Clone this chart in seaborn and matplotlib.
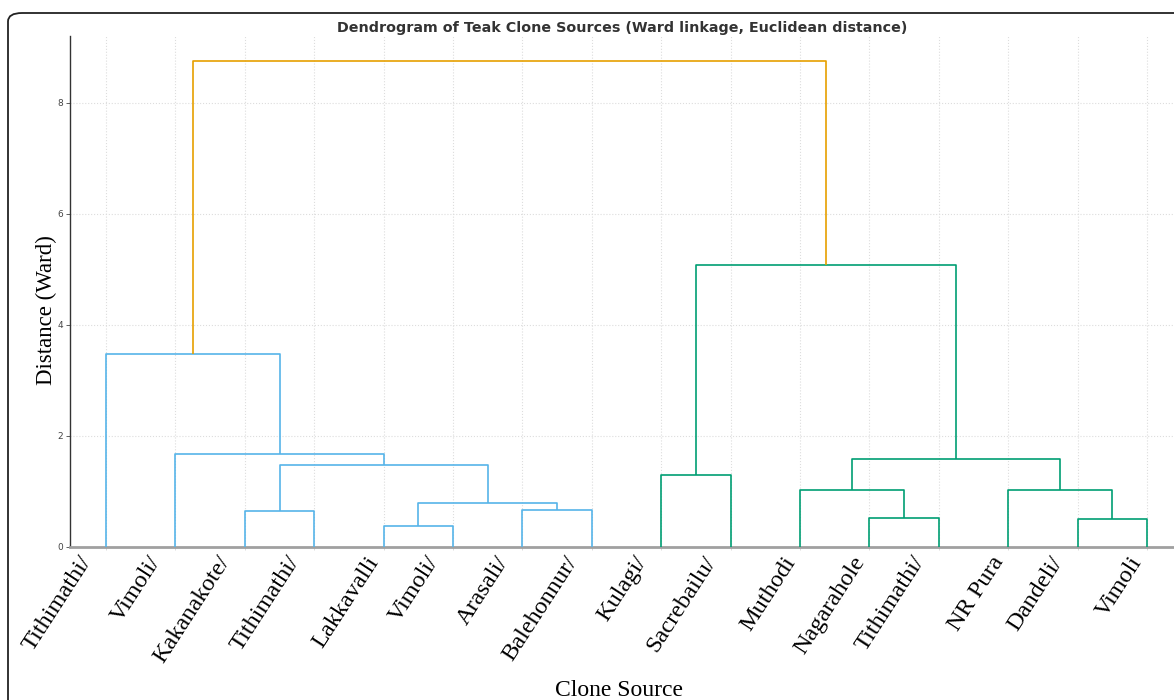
import numpy as np
import matplotlib
matplotlib.use("Agg")
import matplotlib.pyplot as plt
import matplotlib.transforms as mtransforms
from matplotlib.patches import FancyBboxPatch
import seaborn as sns

# leaf order as shown on the x axis
leaf_labels = ["Tithimathi/", "Vimoli/", "Kakanakote/", "Tithimathi/", "Lakkavalli",
               "Vimoli/", "Arasali/", "Balehonnur/", "Kulagi/", "Sacrebailu/",
               "Muthodi", "Nagarahole", "Tithimathi/", "NR Pura", "Dandeli/", "Vimoli"]
leaf_cluster = [0, 0, 0, 0, 0, 0, 0, 0, 1, 1, 1, 1, 1, 1, 1, 1]

# linkage rows (scipy style): child a, child b, height
merge_a = [4, 14, 11, 2, 6, 16, 10, 13, 8, 19, 22, 1, 0, 24, 28]
merge_b = [5, 15, 12, 3, 7, 20, 18, 17, 9, 21, 23, 25, 27, 26, 29]
merge_h = [0.38, 0.51, 0.52, 0.65, 0.67, 0.79, 1.03, 1.03, 1.30, 1.48, 1.59, 1.68, 3.48, 5.07, 8.75]

cluster_colors = {0: "#56B4E9", 1: "#009E73", -1: "#E69F00"}

sns.set_theme(style="whitegrid")
plt.rcParams["font.family"] = ["DejaVu Sans"]

fig = plt.figure(figsize=(11.74, 7.0), dpi=100)
ax = fig.add_axes([70 / 1174, 1 - 547 / 700, 1 - 70 / 1174, (547 - 36) / 700])

n = len(leaf_labels)
xpos = {i: 5 + 10 * i for i in range(n)}
ypos = {i: 0.0 for i in range(n)}
group = {i: leaf_cluster[i] for i in range(n)}

for k, (a, b, h) in enumerate(zip(merge_a, merge_b, merge_h)):
    node = n + k
    g = group[a] if group[a] == group[b] else -1
    ax.plot([xpos[a], xpos[a], xpos[b], xpos[b]], [ypos[a], h, h, ypos[b]],
            color=cluster_colors[g], lw=1.2, solid_capstyle="butt", zorder=3)
    xpos[node] = (xpos[a] + xpos[b]) / 2
    ypos[node] = h
    group[node] = g

ax.set_xlim(-0.2, 158.9)
ax.set_ylim(0, 9.2)
ax.set_xticks([xpos[i] for i in range(n)])
ax.set_xticklabels([])

# leaf labels drawn by hand so the slash-ending ones can sit a bit left, as in the original
base = ax.get_xaxis_transform()
for i, lab in enumerate(leaf_labels):
    dx = -10 / 100 if lab.endswith("/") else 0
    off = mtransforms.ScaledTranslation(dx, -4 / 72, fig.dpi_scale_trans)
    ax.text(xpos[i], 0, lab, transform=base + off, rotation=57, ha="right", va="top",
            fontsize=17.5, family=["Liberation Serif", "DejaVu Serif"], color="black",
            clip_on=False)

ax.set_yticks([0, 2, 4, 6, 8])
ax.tick_params(axis="y", labelsize=6.5, labelcolor="#444444", length=3, width=0.6,
               color="#444444", left=True, pad=2)
ax.tick_params(axis="x", length=2, width=0.5, color="#cccccc", bottom=True, pad=2)

ax.grid(True, color="#dddddd", linestyle=":", linewidth=0.8)
ax.set_facecolor("white")
sns.despine(ax=ax, top=True, right=True)
ax.spines["left"].set_color("#333333")
ax.spines["left"].set_linewidth(1.0)
ax.spines["bottom"].set_color("#a0a0a0")
ax.spines["bottom"].set_linewidth(2.0)

ax.set_title("Dendrogram of Teak Clone Sources (Ward linkage, Euclidean distance)",
             fontsize=10.3, fontweight="bold", color="#333333", pad=3)
ax.set_ylabel("Distance (Ward)", fontsize=16.5, family=["Liberation Serif"], color="black")
ax.yaxis.set_label_coords(-0.012, 0.464)
ax.set_xlabel("Clone Source", fontsize=17, family=["Liberation Serif"], color="black")
ax.xaxis.set_label_coords(0.497, -0.26)

border = FancyBboxPatch((8 / 1174, -0.1), 1.2, 0.1 + 1 - 13 / 700,
                        boxstyle="round,pad=0,rounding_size=0.012",
                        transform=fig.transFigure, fill=False,
                        edgecolor="#222222", linewidth=1.3, zorder=10)
fig.patches.append(border)

fig.savefig("out.png", dpi=100)
